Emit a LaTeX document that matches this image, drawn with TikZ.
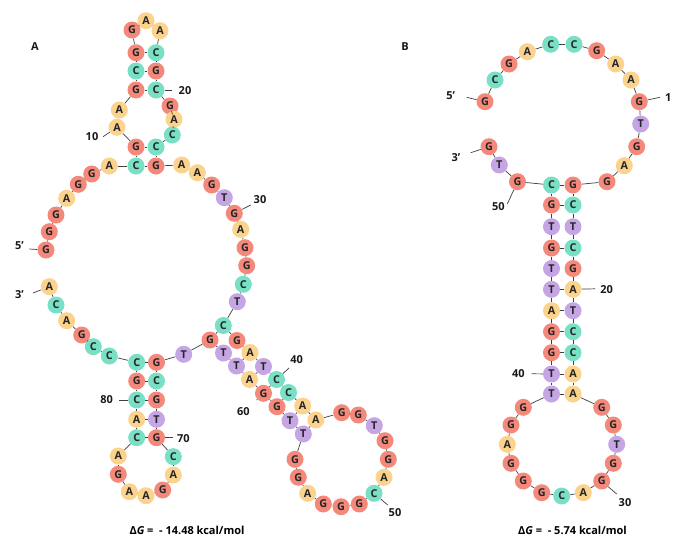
\documentclass[tikz,border=0pt]{standalone}
\usepackage{fontspec}
\setmainfont{Open Sans}
\definecolor{colA}{HTML}{FCD38D}
\definecolor{colG}{HTML}{F4897B}
\definecolor{colC}{HTML}{79E0C6}
\definecolor{colT}{HTML}{C6A5E4}
\newcommand\nt[4]{\node[n#4] (#1) at (#2,#3) {#4};}
\begin{document}
\begin{tikzpicture}[x=1pt,y=-1pt,
  nb/.style={circle,inner sep=0pt,minimum size=17pt,font=\bfseries\fontsize{10.8}{11}\selectfont,text=black!85},
  nA/.style={nb,fill=colA},
  nG/.style={nb,fill=colG},
  nC/.style={nb,fill=colC},
  nT/.style={nb,fill=colT},
  bb/.style={draw=black!75,line width=0.7pt},
  lab/.style={font=\bfseries\fontsize{11}{12}\selectfont,inner sep=0pt,text=black!90},
  dg/.style={font=\bfseries\fontsize{11}{13}\selectfont,inner sep=0pt}]
\fill[white] (0,0) rectangle (673,539);
\useasboundingbox (0,0) rectangle (673,539);
% ---------- structure A ----------
\nt{a1}{46}{250}{G}
\nt{a2}{49.3}{231.7}{G}
\nt{a3}{56}{215}{G}
\nt{a4}{66.7}{198.3}{A}
\nt{a5}{78.3}{184.3}{G}
\nt{a6}{91.7}{174}{G}
\nt{a7}{109.3}{166}{A}
\nt{a8}{136}{166}{C}
\nt{a9}{136}{147}{G}
\nt{a10}{117}{127.3}{A}
\nt{a11}{119.3}{110}{A}
\nt{a12}{136}{90}{G}
\nt{a13}{136}{71}{C}
\nt{a14}{136}{52.7}{G}
\nt{a15}{132}{30}{G}
\nt{a16}{146}{20.7}{A}
\nt{a17}{160}{30.7}{A}
\nt{a18}{156}{52.7}{C}
\nt{a19}{156}{71}{G}
\nt{a20}{156}{90}{C}
\nt{a21}{170}{106}{G}
\nt{a22}{174}{119.3}{A}
\nt{a23}{172.3}{135}{C}
\nt{a24}{156}{147}{C}
\nt{a25}{156}{166}{G}
\nt{a26}{181.7}{165}{A}
\nt{a27}{197.3}{172.7}{A}
\nt{a28}{211.7}{185}{G}
\nt{a29}{224.3}{197.7}{T}
\nt{a30}{234.3}{213.3}{G}
\nt{a31}{240.7}{229.3}{A}
\nt{a32}{245}{247.7}{G}
\nt{a33}{246.7}{265.7}{G}
\nt{a34}{243.3}{284.3}{C}
\nt{a35}{237.3}{301.7}{T}
\nt{a36}{223.3}{325.5}{C}
\nt{a37}{237}{340.5}{G}
\nt{a38}{250}{352.5}{A}
\nt{a39}{263.5}{366.5}{T}
\nt{a40}{276.5}{379.5}{C}
\nt{a41}{288.5}{392.5}{C}
\nt{a42}{302.7}{406}{A}
\nt{a43}{315.8}{420}{A}
\nt{a44}{341.7}{412.7}{G}
\nt{a45}{358.3}{415}{G}
\nt{a46}{374.3}{425.7}{T}
\nt{a47}{385}{440.7}{G}
\nt{a48}{388.3}{459.3}{G}
\nt{a49}{384}{477.3}{A}
\nt{a50}{374}{493.3}{C}
\nt{a51}{359.3}{504}{G}
\nt{a52}{341}{506.7}{G}
\nt{a53}{323.3}{504}{G}
\nt{a54}{307.7}{493.3}{A}
\nt{a55}{298.3}{477.3}{G}
\nt{a56}{295}{459.3}{G}
\nt{a57}{303.3}{434}{T}
\nt{a58}{290}{420.7}{T}
\nt{a59}{277}{406.7}{G}
\nt{a60}{263.5}{393.3}{G}
\nt{a61}{249.5}{379.5}{A}
\nt{a62}{236.5}{366}{T}
\nt{a63}{223.5}{353}{T}
\nt{a64}{210}{340}{G}
\nt{a65}{183.7}{354.3}{T}
\nt{a66}{156.5}{362.3}{G}
\nt{a67}{156.5}{381}{C}
\nt{a68}{156.5}{400}{G}
\nt{a69}{156.5}{419.3}{T}
\nt{a70}{156.5}{437.7}{G}
\nt{a71}{173.3}{456.7}{C}
\nt{a72}{173.3}{475}{A}
\nt{a73}{162.7}{490}{G}
\nt{a74}{146}{495.7}{A}
\nt{a75}{129.3}{491.7}{A}
\nt{a76}{118.3}{474.3}{G}
\nt{a77}{118.3}{456}{A}
\nt{a78}{136.7}{437.7}{C}
\nt{a79}{136.7}{419.3}{A}
\nt{a80}{136.7}{400}{C}
\nt{a81}{136.7}{381}{G}
\nt{a82}{136.7}{362.3}{C}
\nt{a83}{109.3}{356}{C}
\nt{a84}{93.3}{346.7}{C}
\nt{a85}{81.7}{335}{G}
\nt{a86}{66.7}{320.7}{A}
\nt{a87}{56}{305}{C}
\nt{a88}{49.3}{286.7}{A}
\foreach \i [evaluate=\i as \j using int(\i+1)] in {1,...,87}
  \draw[bb] (a\i) -- (a\j);
\foreach \p/\q in {8/25,9/24,12/20,13/19,14/18,36/64,38/62,39/61,40/60,41/59,42/58,43/57,66/82,67/81,68/80,69/79,70/78}
  \draw[bb] (a\p) -- (a\q);
% labels A
\node[lab,anchor=east] (l5a) at (24,246) {5’};
\coordinate (l5ae) at (29.3,249);
\draw[bb] (l5ae) -- (a1);
\node[lab,anchor=east] (l3a) at (24,295) {3’};
\coordinate (l3ae) at (33,293);
\draw[bb] (l3ae) -- (a88);
\node[lab] (l10) at (92,137) {10};
\coordinate (l10e) at (103,136.7);
\draw[bb] (l10e) -- (a10);
\node[lab] (l20) at (185,90.7) {20};
\coordinate (l20e) at (172,90);
\draw[bb] (a20) -- (l20e);
\node[lab] (l30) at (260,199.3) {30};
\coordinate (l30e) at (250.7,205);
\draw[bb] (a30) -- (l30e);
\node[lab] (l40) at (296.7,359.3) {40};
\coordinate (l40e) at (289,368);
\draw[bb] (a40) -- (l40e);
\node[lab] (l50) at (395,512.7) {50};
\coordinate (l50e) at (387.7,505);
\draw[bb] (a50) -- (l50e);
\node[lab] (l60) at (243.3,411.7) {60};
\coordinate (l60e) at (256.7,400);
\draw[bb] (a60) -- (l60e);
\node[lab] (l70) at (183.3,438.3) {70};
\coordinate (l70e) at (173.3,437.7);
\draw[bb] (a70) -- (l70e);
\node[lab] (l80) at (106.7,400) {80};
\coordinate (l80e) at (119.3,400);
\draw[bb] (l80e) -- (a80);
% ---------- structure B ----------
\nt{b1}{485}{101.7}{G}
\nt{b2}{495}{80}{C}
\nt{b3}{509}{64}{G}
\nt{b4}{527.3}{51.7}{A}
\nt{b5}{550.7}{44.3}{C}
\nt{b6}{574}{44.3}{C}
\nt{b7}{596.7}{50.7}{G}
\nt{b8}{615.7}{64}{A}
\nt{b9}{631}{80}{A}
\nt{b10}{639.3}{101.7}{G}
\nt{b11}{640.7}{124}{T}
\nt{b12}{636.7}{146.7}{G}
\nt{b13}{624.3}{165.7}{A}
\nt{b14}{607}{181.7}{G}
\nt{b15}{573}{185}{G}
\nt{b16}{573}{205}{C}
\nt{b17}{573}{226.7}{T}
\nt{b18}{573}{248}{C}
\nt{b19}{573}{268.5}{G}
\nt{b20}{573}{289.3}{A}
\nt{b21}{573}{310.7}{T}
\nt{b22}{573}{331.7}{C}
\nt{b23}{573}{352.7}{C}
\nt{b24}{573}{374}{A}
\nt{b25}{573}{394}{A}
\nt{b26}{601.7}{407.3}{G}
\nt{b27}{613.3}{425}{G}
\nt{b28}{616.7}{444.3}{T}
\nt{b29}{613.3}{463.3}{G}
\nt{b30}{601.7}{481}{G}
\nt{b31}{583.3}{492.7}{A}
\nt{b32}{561.7}{496}{C}
\nt{b33}{541.7}{492.7}{G}
\nt{b34}{523.3}{481}{G}
\nt{b35}{511}{463.3}{G}
\nt{b36}{507.3}{444.3}{A}
\nt{b37}{511}{425}{G}
\nt{b38}{523.3}{407.3}{G}
\nt{b39}{551.5}{394}{T}
\nt{b40}{551.5}{374}{T}
\nt{b41}{551.5}{352.7}{G}
\nt{b42}{551.5}{331.7}{G}
\nt{b43}{551.5}{310.7}{A}
\nt{b44}{551.5}{289.3}{T}
\nt{b45}{551.5}{268.5}{T}
\nt{b46}{551.5}{248}{G}
\nt{b47}{551.5}{226.7}{T}
\nt{b48}{551.5}{205}{G}
\nt{b49}{551.5}{185}{C}
\nt{b50}{517.5}{181.7}{G}
\nt{b51}{499.3}{165}{T}
\nt{b52}{489}{146.7}{G}
\foreach \i [evaluate=\i as \j using int(\i+1)] in {1,...,51}
  \draw[bb] (b\i) -- (b\j);
\foreach \p/\q in {49/15,48/16,46/18,44/20,43/21,42/22,41/23,40/24,39/25}
  \draw[bb] (b\p) -- (b\q);
% labels B
\node[lab] (l5b) at (450.7,95.7) {5’};
\coordinate (l5be) at (466.7,97.3);
\draw[bb] (l5be) -- (b1);
\node[lab] (l3b) at (456,157.3) {3’};
\coordinate (l3be) at (470.7,152.7);
\draw[bb] (l3be) -- (b52);
\node[lab,anchor=west] (l1b) at (665,97.5) {1};
\coordinate (l1be) at (660,97.3);
\draw[bb] (b10) -- (l1be);
\node[lab] (l20b) at (606.7,289.3) {20};
\coordinate (l20be) at (595,288.8);
\draw[bb] (b20) -- (l20be);
\node[lab] (l30b) at (625,502.7) {30};
\coordinate (l30be) at (616.7,494);
\draw[bb] (b30) -- (l30be);
\node[lab] (l40b) at (518.3,373.3) {40};
\coordinate (l40be) at (531.7,373.8);
\draw[bb] (l40be) -- (b40);
\node[lab] (l50b) at (498.3,206.7) {50};
\coordinate (l50be) at (507.3,204);
\draw[bb] (b50) -- (l50be);
% panel labels and energies
\node[lab] (pA) at (35,47) {A};
\node[lab] (pB) at (405,47) {B};
\node[dg] (dgA) at (187,530) {Δ\textit{G} =\ \ - 14.48 kcal/mol};
\node[dg] (dgB) at (572.5,530) {Δ\textit{G} =\ \ - 5.74 kcal/mol};
\end{tikzpicture}
\end{document}
